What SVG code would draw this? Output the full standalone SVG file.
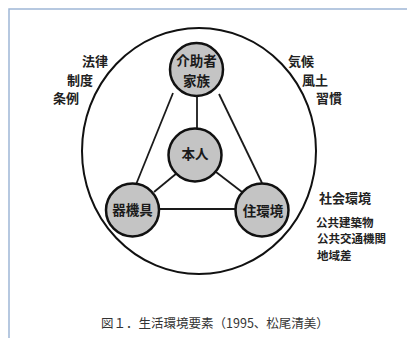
<svg xmlns="http://www.w3.org/2000/svg" width="407" height="338" viewBox="0 0 407 338">
<style>
.frame{fill:none;stroke:#9fb7d6;stroke-width:1.5}
.node{fill:#c4c4c4;stroke:#111;stroke-width:2.5}
.edge{stroke:#1a1a1a;stroke-width:1.8;fill:none}
.nt{font-family:"Noto Sans CJK JP","Noto Sans CJK SC",sans-serif;font-weight:bold;font-size:13.5px;fill:#1a1a1a;text-anchor:middle;dominant-baseline:central}
.lb{font-family:"Noto Sans CJK JP","Noto Sans CJK SC",sans-serif;font-weight:bold;font-size:13px;fill:#222;dominant-baseline:central}
.sm{font-size:11.5px}
.cap{font-family:"Noto Sans CJK JP","Noto Sans CJK SC",sans-serif;font-size:12.5px;fill:#333;text-anchor:middle;dominant-baseline:central}
</style>
<rect width="407" height="338" fill="#fff"/>
<path class="frame" d="M9 338 V9 H407"/>
<ellipse cx="199" cy="151" rx="117" ry="123" fill="none" stroke="#111" stroke-width="2"/>
<g id="connectors">
<line class="edge" x1="173" y1="93" x2="135" y2="187"/>
<line class="edge" x1="219" y1="94" x2="262" y2="183"/>
<line class="edge" x1="197" y1="97" x2="197" y2="128"/>
<line class="edge" x1="177" y1="173" x2="154" y2="192"/>
<line class="edge" x1="216" y1="172" x2="242" y2="192"/>
<line class="edge" x1="159" y1="209" x2="236" y2="209"/>
</g>
<g id="caregiver"><circle class="node" cx="196.5" cy="69.5" r="26.5"/><text class="nt" x="196.5" y="60">介助者</text><text class="nt" x="196.5" y="80">家族</text></g>
<g id="self"><circle class="node" cx="195" cy="155" r="26.5"/><text class="nt" x="195" y="153">本人</text></g>
<g id="equipment"><circle class="node" cx="132.5" cy="210" r="26.5"/><text class="nt" x="132.5" y="209">器機具</text></g>
<g id="housing"><circle class="node" cx="262" cy="210" r="26.5"/><text class="nt" x="263" y="210">住環境</text></g>
<g id="left-labels">
<text class="lb" x="82" y="60">法律</text>
<text class="lb" x="67" y="79">制度</text>
<text class="lb" x="53" y="97">条例</text>
</g>
<g id="right-labels">
<text class="lb" x="288" y="60">気候</text>
<text class="lb" x="302" y="79">風土</text>
<text class="lb" x="316" y="97">習慣</text>
</g>
<g id="social">
<text class="lb" x="319" y="197">社会環境</text>
<text class="lb sm" x="316" y="222">公共建築物</text>
<text class="lb sm" x="317" y="238">公共交通機関</text>
<text class="lb sm" x="317" y="255">地域差</text>
</g>
<text class="cap" x="215" y="322">図１．生活環境要素（1995、松尾清美）</text>
</svg>
